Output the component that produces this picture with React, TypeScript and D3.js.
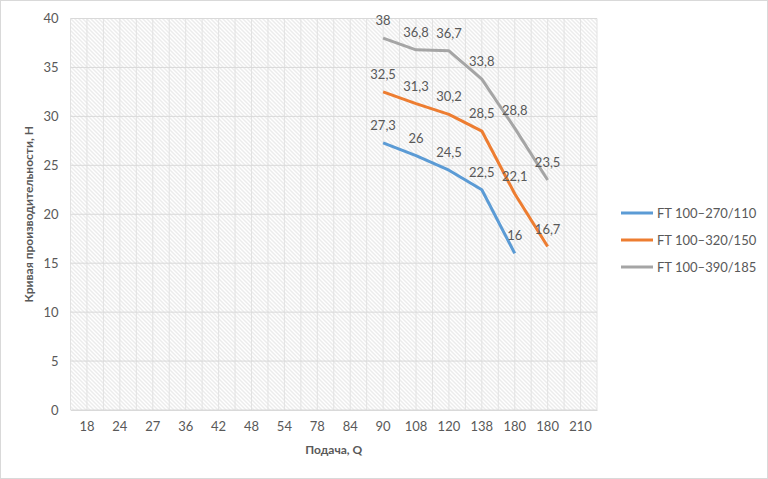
import { useEffect, useRef } from "react";
import * as d3 from "d3";

const categories = ["18", "24", "27", "36", "42", "48", "54", "78", "84", "90", "108", "120", "138", "180", "180", "210"];

// values start at category "90" (index 9)
const seriesStart = 9;
const ft110 = [27.3, 26, 24.5, 22.5, 16];
const ft150 = [32.5, 31.3, 30.2, 28.5, 22.1, 16.7];
const ft185 = [38, 36.8, 36.7, 33.8, 28.8, 23.5];

const seriesNames = ["FT 100–270/110", "FT 100–320/150", "FT 100–390/185"];
const seriesColors = ["#5B9BD5", "#ED7D31", "#A5A5A5"];

const yTicks = [0, 5, 10, 15, 20, 25, 30, 35, 40];

export default function App() {
  const svgRef = useRef<SVGSVGElement>(null);
  const width = 768;
  const height = 479;
  const margin = { top: 18.5, right: 171, bottom: 69, left: 70.5 };

  useEffect(() => {
    if (!svgRef.current) return;
    const root = d3.select(svgRef.current);
    root.selectAll("*").remove();

    const innerWidth = width - margin.left - margin.right;
    const innerHeight = height - margin.top - margin.bottom;
    const font = "Lato, 'Open Sans', sans-serif";
    const textColor = "#595959";

    const x = d3
      .scaleBand<number>()
      .domain(categories.map((_, i) => i))
      .range([0, innerWidth]);

    const y = d3.scaleLinear().domain([0, 40]).range([innerHeight, 0]);

    // Hatch pattern for the plot area
    const defs = root.append("defs");
    const pattern = defs
      .append("pattern")
      .attr("id", "hatch")
      .attr("patternUnits", "userSpaceOnUse")
      .attr("width", 4)
      .attr("height", 4);
    pattern.append("rect").attr("width", 4).attr("height", 4).attr("fill", "#ffffff");
    pattern
      .append("path")
      .attr("d", "M0,0 L4,4 M-1,3 L1,5 M3,-1 L5,1")
      .attr("stroke", "#d8d8d8")
      .attr("stroke-width", 1);

    // Chart background and border
    root
      .append("rect")
      .attr("x", 0.5)
      .attr("y", 0.5)
      .attr("width", width - 1)
      .attr("height", height - 1)
      .attr("fill", "#ffffff")
      .attr("stroke", "#d9d9d9");

    const svg = root
      .append("g")
      .attr("transform", `translate(${margin.left},${margin.top})`);

    svg
      .append("rect")
      .attr("width", innerWidth)
      .attr("height", innerHeight)
      .attr("fill", "url(#hatch)");

    // Vertical gridlines at category centres and boundaries
    const vLines: number[] = [];
    categories.forEach((_, i) => {
      vLines.push(x(i)!);
      vLines.push(x(i)! + x.bandwidth() / 2);
    });
    vLines.push(innerWidth);
    svg
      .append("g")
      .selectAll("line")
      .data(vLines)
      .enter()
      .append("line")
      .attr("x1", (d) => d)
      .attr("x2", (d) => d)
      .attr("y1", 0)
      .attr("y2", innerHeight)
      .attr("stroke", "#e2e2e2")
      .attr("stroke-width", 1);

    // Horizontal gridlines
    svg
      .append("g")
      .selectAll("line")
      .data(yTicks)
      .enter()
      .append("line")
      .attr("x1", 0)
      .attr("x2", innerWidth)
      .attr("y1", (d) => y(d))
      .attr("y2", (d) => y(d))
      .attr("stroke", "#d9d9d9")
      .attr("stroke-width", 1);

    // Axes
    const yAxis = svg
      .append("g")
      .call(d3.axisLeft(y).tickValues(yTicks).tickSize(0).tickPadding(12));
    yAxis.select(".domain").remove();
    yAxis
      .selectAll("text")
      .attr("fill", textColor)
      .attr("font-family", font)
      .attr("font-size", 13);

    const xAxis = svg
      .append("g")
      .attr("transform", `translate(0,${innerHeight})`)
      .call(
        d3
          .axisBottom(x)
          .tickSize(0)
          .tickPadding(12)
          .tickFormat((i) => categories[i])
      );
    xAxis.select(".domain").attr("stroke", "#d9d9d9");
    xAxis
      .selectAll("text")
      .attr("fill", textColor)
      .attr("font-family", font)
      .attr("font-size", 13);

    // Axis titles
    svg
      .append("text")
      .attr("x", innerWidth / 2)
      .attr("y", innerHeight + 44)
      .attr("text-anchor", "middle")
      .attr("font-family", font)
      .attr("font-weight", "bold")
      .attr("font-size", 12)
      .attr("fill", textColor)
      .text("Подача, Q");

    svg
      .append("text")
      .attr("transform", `translate(${-38},${innerHeight / 2}) rotate(-90)`)
      .attr("text-anchor", "middle")
      .attr("font-family", font)
      .attr("font-weight", "bold")
      .attr("font-size", 12)
      .attr("fill", textColor)
      .text("Кривая производительности, H");

    // Lines and labels
    const series = [ft110, ft150, ft185];
    const line = d3
      .line<number>()
      .x((_, i) => x(seriesStart + i)! + x.bandwidth() / 2)
      .y((d) => y(d));

    series.forEach((values, s) => {
      svg
        .append("path")
        .datum(values)
        .attr("fill", "none")
        .attr("stroke", seriesColors[s])
        .attr("stroke-width", 3)
        .attr("stroke-linejoin", "round")
        .attr("d", line);

      svg
        .append("g")
        .selectAll("text")
        .data(values)
        .enter()
        .append("text")
        .attr("x", (_, i) => x(seriesStart + i)! + x.bandwidth() / 2)
        .attr("y", (d) => y(d) - 13)
        .attr("text-anchor", "middle")
        .attr("font-family", font)
        .attr("font-size", 13)
        .attr("fill", textColor)
        .text((d) => String(d).replace(".", ","));
    });

    // Legend
    const legend = root.append("g").attr("transform", "translate(621,213)");
    seriesNames.forEach((name, s) => {
      const g = legend.append("g").attr("transform", `translate(0,${s * 27})`);
      g.append("line")
        .attr("x1", 0)
        .attr("x2", 32)
        .attr("stroke", seriesColors[s])
        .attr("stroke-width", 3);
      g.append("text")
        .attr("x", 36)
        .attr("dy", "0.35em")
        .attr("font-family", font)
        .attr("font-size", 13)
        .attr("fill", textColor)
        .text(name);
    });
  }, []);

  return (
    <svg
      ref={svgRef}
      width={width}
      height={height}
      style={{ position: "absolute", left: 0, top: 0, display: "block" }}
    ></svg>
  );
}
